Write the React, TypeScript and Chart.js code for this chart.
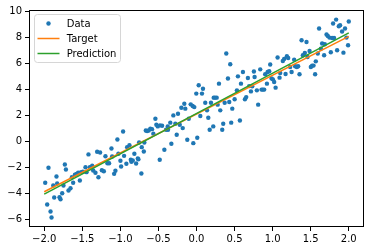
import React, { useEffect, useRef } from "react";
import { Chart, registerables } from "chart.js";

Chart.register(...registerables);

const dataX = [
  -1.987, -1.961, -1.944, -1.917, -1.904, -1.882, -1.869, -1.839, -1.83, -1.799,
  -1.786, -1.764, -1.747, -1.729, -1.715, -1.681, -1.655, -1.637, -1.62, -1.597,
  -1.576, -1.554, -1.532, -1.515, -1.492, -1.458, -1.445, -1.419, -1.401, -1.37,
  -1.357, -1.327, -1.305, -1.288, -1.266, -1.243, -1.217, -1.196, -1.17, -1.148,
  -1.117, -1.108, -1.082, -1.065, -1.039, -1.026, -0.999, -0.99, -0.964, -0.951,
  -0.921, -0.911, -0.881, -0.863, -0.855, -0.837, -0.816, -0.793, -0.771, -0.763,
  -0.754, -0.724, -0.719, -0.692, -0.685, -0.666,
  -0.649, -0.627, -0.606, -0.584, -0.567, -0.54, -0.527, -0.509, -0.483, -0.479,
  -0.452, -0.422, -0.4, -0.378, -0.374, -0.344, -0.33, -0.304, -0.278, -0.26,
  -0.243, -0.22, -0.199, -0.181, -0.16, -0.147, -0.121, -0.102, -0.076, -0.05,
  -0.042, -0.029, -0.003, 0.01, 0.029, 0.05, 0.072, 0.085, 0.115, 0.138,
  0.155, 0.173, 0.19, 0.22, 0.226, 0.243, 0.265, 0.278, 0.295, 0.312,
  0.338, 0.351, 0.37, 0.391, 0.413, 0.43, 0.443, 0.456, 0.47, 0.501,
  0.531, 0.544, 0.57, 0.584, 0.61, 0.636, 0.653, 0.675, 0.692, 0.715,
  0.732, 0.754, 0.763,
  0.793, 0.81, 0.837, 0.855, 0.872, 0.889, 0.902, 0.925, 0.934, 0.955,
  0.968, 0.986, 1.003, 1.02, 1.039, 1.065, 1.091, 1.099, 1.134, 1.151,
  1.17, 1.187, 1.204, 1.23, 1.249, 1.283, 1.296, 1.318, 1.335, 1.353,
  1.38, 1.397, 1.423, 1.445, 1.458, 1.485, 1.502, 1.519, 1.537, 1.558,
  1.567, 1.593, 1.61, 1.633, 1.65, 1.676, 1.685, 1.708, 1.725, 1.747,
  1.764, 1.781, 1.794, 1.807, 1.834, 1.847, 1.869, 1.886, 1.912, 1.93,
  1.951, 1.97, 1.991, 2.0,
];

const dataY = [
  -3.19, -4.87, -2.03, -5.41, -5.87, -3.4, -4.33, -2.7, -3.25, -4.3,
  -4.46, -4.0, -3.4, -1.78, -2.16, -3.79, -3.61, -2.76, -3.19, -2.57,
  -2.5, -2.42, -3.01, -2.37, -2.34, -1.99, -2.37, -1.0, -1.99, -1.88,
  -2.24, -2.42, -0.8, -2.76, -0.85, -2.22, -2.3, -1.14, -1.68, -1.68,
  -0.54, -1.16, -2.5, -2.26, 0.15, -0.95, -1.49, -1.93, 0.77, -1.11,
  -1.72, -0.44, -0.29, -1.41, -1.57, -1.47, -0.95, -1.7, -1.31, -1.37,
  -0.08, -2.47, -0.44, -0.77, -0.08, 0.85,
  0.8, 0.85, 0.98, 0.95, 0.6, 1.75, 1.29, 1.16, -1.41, 1.24,
  1.21, -0.64, 0.9, 1.16, 0.9, 1.45, -0.18, 2.01, 1.37, 0.52,
  2.14, 1.29, 2.6, 1.03, 2.91, 2.53, 0.13, 1.75, 2.86, 2.73,
  -0.13, 2.65, 3.69, 0.29, 4.33, 1.96, 3.69, 4.07, 2.99, 2.4,
  1.83, 0.9, 2.99, 1.16, 3.38, 3.38, 3.38, 2.84, 4.46, 2.4,
  0.9, 1.37, 2.99, 6.78, 4.85, 3.04, 5.95, 1.45, 2.53, 3.25,
  3.94, 5.02, 1.62, 4.46, 5.36, 3.25, 3.42, 4.89, 4.27, 3.86,
  4.25, 5.39, 4.97,
  3.94, 2.84, 5.56, 4.0, 4.0, 4.0, 5.18, 4.46, 5.36, 5.41,
  5.93, 4.85, 4.79, 4.58, 4.15, 6.47, 4.92, 5.28, 6.21, 6.36,
  5.2, 6.57, 6.44, 5.74, 5.36, 6.31, 5.8, 5.74, 5.8, 5.18,
  7.81, 6.65, 6.82, 7.67, 6.51, 6.98, 5.74, 5.85, 5.85, 5.18,
  6.18, 6.78, 8.71, 7.16, 7.55, 6.65, 7.5, 8.25, 8.14, 8.01,
  6.88, 7.98, 9.1, 7.98, 9.4, 7.03, 8.89, 8.96, 8.48, 6.85,
  8.71, 8.01, 7.42, 9.25,
];

const lineX = [-2.0, 2.0];
const targetY = [-3.88, 8.1];
const predictionY = [-4.07, 8.38];

const xTicks = [-2.0, -1.5, -1.0, -0.5, 0.0, 0.5, 1.0, 1.5, 2.0];
const yTicks = [-6, -4, -2, 0, 2, 4, 6, 8, 10];

const FONT = "'DejaVu Sans', sans-serif";

const fmt = (v: number, d: number) => {
  const s = Math.abs(v).toFixed(d);
  return v < 0 ? "\u2212" + s : s;
};

const framePlugin = {
  id: "frame",
  afterDraw(chart: any) {
    const { ctx, chartArea } = chart;
    const { left, top, right, bottom } = chartArea;
    ctx.save();
    ctx.strokeStyle = "#000";
    ctx.lineWidth = 1;
    ctx.strokeRect(Math.round(left) + 0.5, Math.round(top) + 0.5, Math.round(right - left) - 1, Math.round(bottom - top) - 1);

    // legend
    const bx = left + 5.5;
    const by = top + 4.5;
    const bw = 86;
    const bh = 48;
    const r = 3;
    ctx.beginPath();
    ctx.moveTo(bx + r, by);
    ctx.lineTo(bx + bw - r, by);
    ctx.arcTo(bx + bw, by, bx + bw, by + r, r);
    ctx.lineTo(bx + bw, by + bh - r);
    ctx.arcTo(bx + bw, by + bh, bx + bw - r, by + bh, r);
    ctx.lineTo(bx + r, by + bh);
    ctx.arcTo(bx, by + bh, bx, by + bh - r, r);
    ctx.lineTo(bx, by + r);
    ctx.arcTo(bx, by, bx + r, by, r);
    ctx.closePath();
    ctx.fillStyle = "rgba(255,255,255,0.8)";
    ctx.fill();
    ctx.strokeStyle = "#d6d6d6";
    ctx.lineWidth = 1;
    ctx.stroke();

    const dsets = chart.data.datasets;
    ctx.font = `10px ${FONT}`;
    ctx.textBaseline = "middle";
    ctx.textAlign = "left";
    dsets.forEach((ds: any, i: number) => {
      const cy = top + 13.5 + i * 15;
      const hx0 = left + 8.5;
      const hx1 = left + 30.5;
      if (ds.showLine) {
        ctx.beginPath();
        ctx.moveTo(hx0, cy);
        ctx.lineTo(hx1, cy);
        ctx.strokeStyle = ds.borderColor;
        ctx.lineWidth = 1.5;
        ctx.stroke();
      } else {
        ctx.beginPath();
        ctx.arc((hx0 + hx1) / 2, cy, 2.2, 0, Math.PI * 2);
        ctx.fillStyle = ds.backgroundColor;
        ctx.fill();
      }
      ctx.fillStyle = "#000";
      ctx.fillText(ds.label, left + 37.7, cy + 0.5);
    });
    ctx.restore();
  },
};

export default function App() {
  const ref = useRef<HTMLCanvasElement | null>(null);

  useEffect(() => {
    if (!ref.current) return;
    const chart = new Chart(ref.current, {
      type: "scatter",
      data: {
        datasets: [
          {
            label: "Data",
            data: dataX.map((x, i) => ({ x, y: dataY[i] })),
            backgroundColor: "#1f77b4",
            borderColor: "#1f77b4",
            pointRadius: 2.2,
            borderWidth: 0,
            showLine: false,
            order: 3,
          },
          {
            label: "Target",
            data: lineX.map((x, i) => ({ x, y: targetY[i] })),
            borderColor: "#ff7f0e",
            backgroundColor: "#ff7f0e",
            borderWidth: 1.5,
            pointRadius: 0,
            showLine: true,
            order: 2,
          },
          {
            label: "Prediction",
            data: lineX.map((x, i) => ({ x, y: predictionY[i] })),
            borderColor: "#2ca02c",
            backgroundColor: "#2ca02c",
            borderWidth: 1.5,
            pointRadius: 0,
            showLine: true,
            order: 1,
          },
        ],
      },
      options: {
        animation: false,
        responsive: false,
        devicePixelRatio: 1,
        layout: { padding: { left: 0, right: 6, top: 10, bottom: 0 } },
        plugins: {
          legend: { display: false },
          tooltip: { enabled: false },
        },
        scales: {
          x: {
            type: "linear",
            min: -2.2,
            max: 2.2,
            afterBuildTicks: (s: any) => {
              s.ticks = xTicks.map((v) => ({ value: v }));
            },
            afterFit: (s: any) => {
              s.height = 24;
              s.paddingLeft = 0;
              s.paddingRight = 0;
            },
            grid: {
              drawOnChartArea: false,
              drawTicks: true,
              tickLength: 4,
              color: "#000",
              lineWidth: 1,
            },
            border: { display: false },
            ticks: {
              padding: 2,
              color: "#000",
              font: { family: FONT, size: 10 },
              maxRotation: 0,
              autoSkip: false,
              callback: (v: any) => fmt(Number(v), 1),
            },
          },
          y: {
            type: "linear",
            min: -6.6,
            max: 10.14,
            afterBuildTicks: (s: any) => {
              s.ticks = yTicks.map((v) => ({ value: v }));
            },
            afterFit: (s: any) => {
              s.width = 29;
            },
            grid: {
              drawOnChartArea: false,
              drawTicks: true,
              tickLength: 4,
              color: "#000",
              lineWidth: 1,
            },
            border: { display: false },
            ticks: {
              padding: 3,
              color: "#000",
              font: { family: FONT, size: 10 },
              autoSkip: false,
              callback: (v: any) => fmt(Number(v), 0),
            },
          },
        },
      },
      plugins: [framePlugin],
    } as any);
    return () => chart.destroy();
  }, []);

  return (
    <div style={{ position: "fixed", left: 0, top: 0, width: 370, height: 251, background: "#fff" }}>
      <canvas ref={ref} width={370} height={251} style={{ display: "block" }} />
    </div>
  );
}
